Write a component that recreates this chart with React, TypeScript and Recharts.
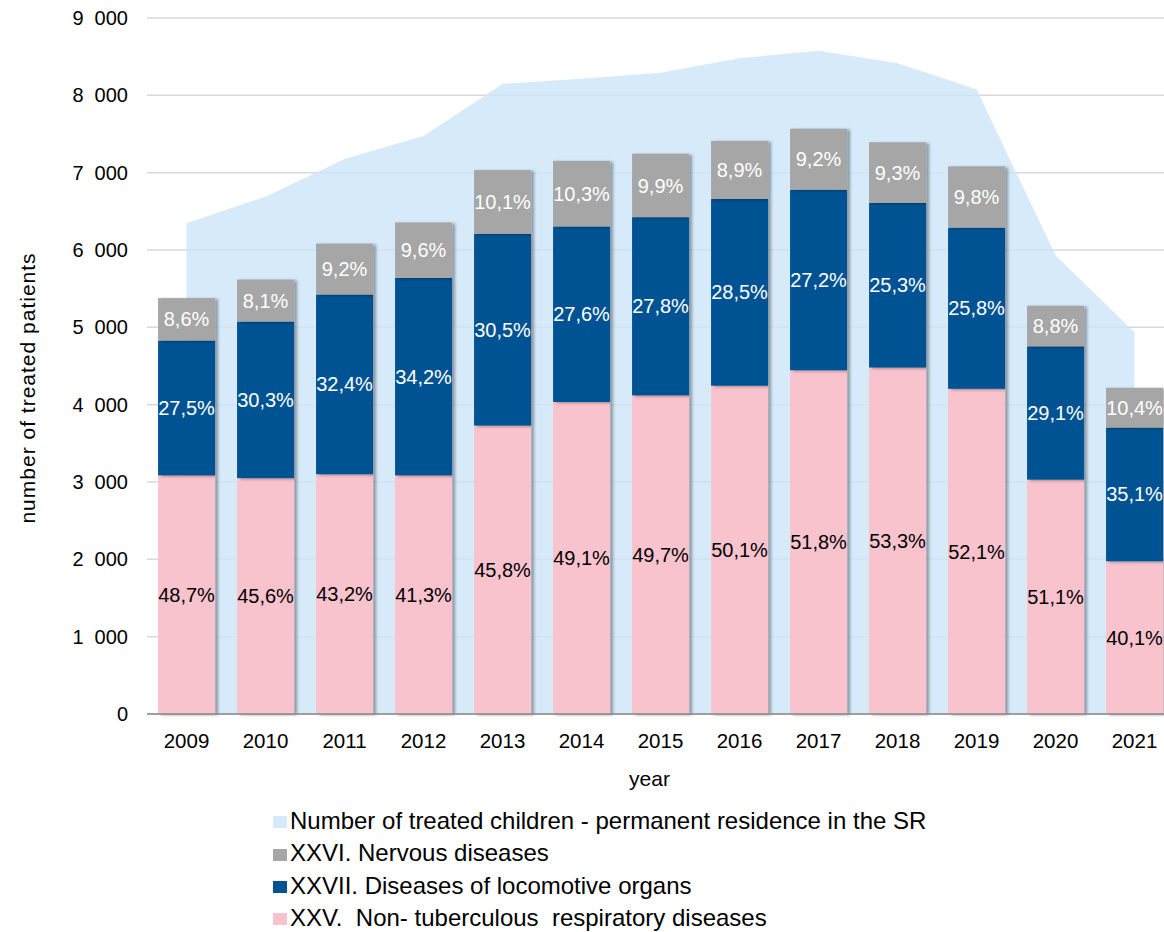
import React from 'react';
import {
  ComposedChart,
  Area,
  Bar,
  XAxis,
  YAxis,
  CartesianGrid,
  LabelList,
  Legend,
  Label,
} from 'recharts';

const years = ['2009', '2010', '2011', '2012', '2013', '2014', '2015', '2016', '2017', '2018', '2019', '2020', '2021'];
const totalChildren = [6346, 6690, 7177, 7474, 8147, 8216, 8293, 8479, 8578, 8414, 8078, 5932, 4936];
const respiratory = [3085, 3050, 3100, 3085, 3730, 4035, 4120, 4245, 4445, 4480, 4205, 3030, 1975];
const locomotive = [1745, 2025, 2325, 2555, 2480, 2270, 2305, 2415, 2335, 2130, 2085, 1725, 1730];
const nervous = [548, 543, 658, 716, 824, 848, 820, 752, 789, 783, 792, 524, 513];
const respLabels = ['48,7%', '45,6%', '43,2%', '41,3%', '45,8%', '49,1%', '49,7%', '50,1%', '51,8%', '53,3%', '52,1%', '51,1%', '40,1%'];
const locoLabels = ['27,5%', '30,3%', '32,4%', '34,2%', '30,5%', '27,6%', '27,8%', '28,5%', '27,2%', '25,3%', '25,8%', '29,1%', '35,1%'];
const nervLabels = ['8,6%', '8,1%', '9,2%', '9,6%', '10,1%', '10,3%', '9,9%', '8,9%', '9,2%', '9,3%', '9,8%', '8,8%', '10,4%'];
const yTicks = [0, 1000, 2000, 3000, 4000, 5000, 6000, 7000, 8000, 9000];

const seriesNames = {
  total: 'Number of treated children - permanent residence in the SR',
  nervous: 'XXVI. Nervous diseases',
  locomotive: 'XXVII. Diseases of locomotive organs',
  respiratory: 'XXV.  Non- tuberculous  respiratory diseases',
};
const colors = {
  total: '#CCE5F9',
  totalSwatch: '#D6EAFA',
  nervous: '#A6A6A6',
  locomotive: '#005293',
  respiratory: '#F9C3CE',
};

const legendItems = [
  { name: seriesNames.total, color: colors.totalSwatch },
  { name: seriesNames.nervous, color: colors.nervous },
  { name: seriesNames.locomotive, color: colors.locomotive },
  { name: seriesNames.respiratory, color: colors.respiratory },
];

const data = years.map((year, i) => ({
  year,
  total: totalChildren[i],
  respiratory: respiratory[i],
  locomotive: locomotive[i],
  nervous: nervous[i],
  respLabel: respLabels[i],
  locoLabel: locoLabels[i],
  nervLabel: nervLabels[i],
}));

const FONT = '"Liberation Sans", Arial, Helvetica, sans-serif';

const formatTick = (v: number) =>
  v === 0 ? '0' : `${Math.floor(v / 1000)}\u2007${String(v % 1000).padStart(3, '0')}`;

const ShadowRect = (props: any) => {
  const { x, y, width, height, fill } = props;
  if (height == null || height <= 0) return null;
  return <rect x={x} y={y} width={width} height={height} fill={fill} filter="url(#barShadow)" />;
};

const LegendContent = () => (
  <div style={{ fontFamily: FONT, fontSize: 24, color: '#000', lineHeight: '32.4px' }}>
    {legendItems.map((it) => (
      <div key={it.name} style={{ display: 'flex', alignItems: 'center', whiteSpace: 'pre', height: 32.4 }}>
        <span style={{ display: 'inline-block', width: 14, height: 12, background: it.color, marginRight: 3, marginTop: 2 }} />
        <span>{it.name}</span>
      </div>
    ))}
  </div>
);

export default function App() {
  return (
    <div style={{ position: 'absolute', left: 0, top: 0, width: 1164, height: 932, overflow: 'hidden', background: '#fff' }}>
      <ComposedChart
        width={1180}
        height={932}
        data={data}
        margin={{ top: 18, right: 6, left: 0, bottom: 0 }}
        barCategoryGap="14%"
        style={{ fontFamily: FONT }}
      >
        <defs>
          <filter id="barShadow" x="-20%" y="-20%" width="150%" height="150%">
            <feDropShadow dx="3" dy="1" stdDeviation="1.8" floodColor="#000" floodOpacity="0.35" />
          </filter>
        </defs>
        <CartesianGrid vertical={false} stroke="#D9D9D9" strokeWidth={1.5} />
        <XAxis
          dataKey="year"
          axisLine={{ stroke: '#898989', strokeWidth: 1.5 }}
          tickLine={false}
          tickSize={0}
          tickMargin={19}
          height={218}
          tick={{ fill: '#000', fontSize: 20.5, fontFamily: FONT }}
          interval={0}
        >
          <Label
            content={(p: any) => {
              const vb = p.viewBox || {};
              return (
                <text x={vb.x + vb.width / 2 - 11} y={vb.y + 72} textAnchor="middle" fontSize={21} fontFamily={FONT} fill="#000">
                  year
                </text>
              );
            }}
          />
        </XAxis>
        <YAxis
          width={147}
          domain={[0, 9000]}
          ticks={yTicks}
          tickFormatter={formatTick}
          axisLine={false}
          tickLine={false}
          tickSize={0}
          tickMargin={19}
          tick={{ fill: '#000', fontSize: 20, fontFamily: FONT }}
          interval={0}
        >
          <Label
            content={() => (
              <text
                x={27}
                y={388}
                transform="rotate(-90 27 388)"
                textAnchor="middle"
                dominantBaseline="central"
                fontSize={21}
                letterSpacing={1}
                fontFamily={FONT}
                fill="#000"
              >
                number of treated patients
              </text>
            )}
          />
        </YAxis>
        <Area
          type="linear"
          dataKey="total"
          name={seriesNames.total}
          fill={colors.total}
          fillOpacity={0.8}
          stroke="none"
          isAnimationActive={false}
          activeDot={false}
          dot={false}
        />
        <Bar dataKey="respiratory" name={seriesNames.respiratory} stackId="s" fill={colors.respiratory} shape={ShadowRect} isAnimationActive={false}>
          <LabelList dataKey="respLabel" position="center" fill="#000" fontSize={20} fontFamily={FONT} />
        </Bar>
        <Bar dataKey="locomotive" name={seriesNames.locomotive} stackId="s" fill={colors.locomotive} shape={ShadowRect} isAnimationActive={false}>
          <LabelList dataKey="locoLabel" position="center" fill="#fff" fontSize={20} fontFamily={FONT} />
        </Bar>
        <Bar dataKey="nervous" name={seriesNames.nervous} stackId="s" fill={colors.nervous} shape={ShadowRect} isAnimationActive={false}>
          <LabelList dataKey="nervLabel" position="center" fill="#fff" fontSize={20} fontFamily={FONT} />
        </Bar>
        <Legend
          layout="vertical"
          align="center"
          verticalAlign="middle"
          content={<LegendContent />}
          wrapperStyle={{ top: 805, left: 273, width: 800, height: 130, overflow: 'visible' }}
        />
      </ComposedChart>
    </div>
  );
}
